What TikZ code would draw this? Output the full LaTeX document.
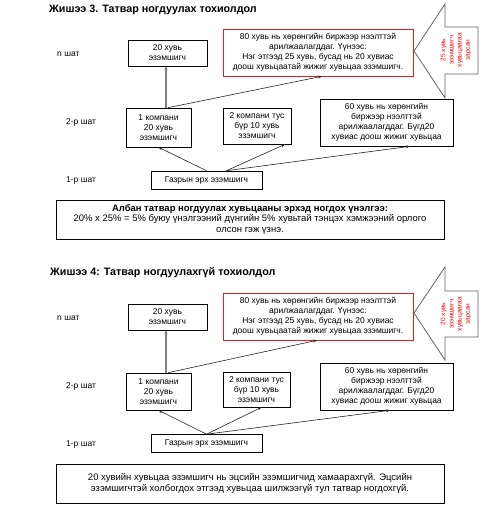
\documentclass[tikz,border=0pt]{standalone}
\usepackage{fontspec}
\setmainfont{Liberation Sans}
\usetikzlibrary{arrows.meta,calc}
\definecolor{redbox}{RGB}{230,30,30}
\definecolor{arrowgray}{RGB}{100,100,100}
\tikzset{
  box/.style={draw=black, line width=0.6bp, align=center, inner sep=0pt, font=\fontsize{8.5}{10}\selectfont},
  redbx/.style={box, draw=redbox},
  lbl/.style={anchor=west, inner sep=0pt, font=\fontsize{8.5}{10}\selectfont},
  ttl/.style={anchor=west, inner sep=0pt, font=\fontsize{10.8}{12}\bfseries\selectfont},
  conn/.style={draw=black!85, line width=0.6bp, -{Stealth[length=4bp,width=3bp]}},
  gconn/.style={draw=gray, line width=1.3bp, -{Stealth[length=4bp,width=3.5bp]}},
  bigarrow/.style={draw=arrowgray, line width=0.8bp, fill=white},
  redtxt/.style={text=red, rotate=90, align=center, inner sep=0pt, font=\fontsize{6.6}{8.2}\selectfont},
  botbox/.style={box, font=\fontsize{9.5}{11}\selectfont},
}
\begin{document}
\begin{tikzpicture}[x=1bp,y=-1bp]
\useasboundingbox[fill=white] (0,0) rectangle (494,522);
% ---------- Example 3 ----------
\node[ttl] (t1) at (49,10) {Жишээ 3. Татвар ногдуулах тохиолдол};
\node[lbl] (an) at (57,54) {n шат};
\node[lbl] (as2) at (66,122) {2-р шат};
\node[lbl] (as1) at (66,180) {1-р шат};
\node[box, minimum width=79bp, minimum height=26bp] (a20) at (167.5,53) {20 хувь\\эзэмшигч};
\node[redbx, minimum width=190bp, minimum height=47bp] (ared) at (318,52.5) {80 хувь нь хөрөнгийн биржээр нээлттэй\\арилжаалагддаг. Үүнээс:\\Нэг этгээд 25 хувь, бусад нь 20 хувиас\\доош хувьцаатай жижиг хувьцаа эзэмшигч.};
\node[box, minimum width=65bp, minimum height=39bp] (ac1) at (158.5,127.5) {1 компани\\20 хувь\\эзэмшигч};
\node[box, minimum width=68bp, minimum height=36bp] (ac2) at (257,126) {2 компани тус\\бүр 10 хувь\\эзэмшигч};
\node[box, minimum width=133bp, minimum height=47bp] (ac60) at (386.5,122.5) {60 хувь нь хөрөнгийн\\биржээр нээлттэй\\арилжаалагддаг. Бүгд20\\хувиас доош жижиг хувьцаа};
\node[box, minimum width=111bp, minimum height=18bp] (aland) at (206.5,180) {Газрын эрх эзэмшигч};
\node[botbox, minimum width=388bp, minimum height=39bp] (abot) at (250,219.5) {\textbf{Албан татвар ногдуулах хувьцааны эрхэд ногдох үнэлгээ:}\\20\% x 25\% = 5\% буюу үнэлгээний дүнгийн 5\% хувьтай тэнцэх хэмжээний орлого\\олсон гэж үзнэ.};
\draw[bigarrow] (414,51) -- (445,4) -- (445,27) -- (478,27) -- (478,74) -- (445,74) -- (445,98) -- cycle;
\node[redtxt] (aarr) at (456,50) {25 хувь\\эзэмшигч\\хувьцаагаа\\зарсан};
\draw[gconn] ($(ac1.north)+(7.5,0)$) -- ($(ac1.north |- a20.south)+(7.5,0)$);
\draw[conn] ($(ac1.north)+(9.5,0)$) -- ($(ared.south)+(4,0)$);
\draw[conn] (aland.north) -- (ac1.south);
\draw[conn] ($(aland.north)+(20,0)$) -- ($(ac2.south)+(28,0)$);
\draw[conn] ($(aland.north)+(20,0)$) -- ($(ac60.south)+(23.5,0)$);
% ---------- Example 4 ----------
\begin{scope}[shift={(0,264)}]
\node[ttl] (t2) at (50,9) {Жишээ 4: Татвар ногдуулахгүй тохиолдол};
\node[lbl] (bn) at (57,54) {n шат};
\node[lbl] (bs2) at (66,122) {2-р шат};
\node[lbl] (bs1) at (66,180) {1-р шат};
\node[box, minimum width=79bp, minimum height=26bp] (b20) at (167.5,53) {20 хувь\\эзэмшигч};
\node[redbx, minimum width=190bp, minimum height=47bp] (bred) at (318,52.5) {80 хувь нь хөрөнгийн биржээр нээлттэй\\арилжаалагддаг. Үүнээс:\\Нэг этгээд 25 хувь, бусад нь 20 хувиас\\доош хувьцаатай жижиг хувьцаа эзэмшигч.};
\node[box, minimum width=65bp, minimum height=37bp] (bc1) at (158.5,127.5) {1 компани\\20 хувь\\эзэмшигч};
\node[box, minimum width=67bp, minimum height=35bp] (bc2) at (256.5,125.5) {2 компани тус\\бүр 10 хувь\\эзэмшигч};
\node[box, minimum width=133bp, minimum height=47bp] (bc60) at (386.5,122.5) {60 хувь нь хөрөнгийн\\биржээр нээлттэй\\арилжаалагддаг. Бүгд20\\хувиас доош жижиг хувьцаа};
\node[box, minimum width=111bp, minimum height=18bp] (bland) at (206.5,179.5) {Газрын эрх эзэмшигч};
\node[botbox, minimum width=388bp, minimum height=39bp] (bbot) at (250,219.5) {20 хувийн хувьцаа эзэмшигч нь эцсийн эзэмшигчид хамаарахгүй. Эцсийн\\эзэмшигчтэй холбогдох этгээд хувьцаа шилжээгүй тул татвар ногдохгүй.};
\draw[bigarrow] (414,49) -- (445,3) -- (445,27) -- (478,27) -- (478,73) -- (445,73) -- (445,96) -- cycle;
\node[redtxt] (barr) at (456,50) {20 хувь\\эзэмшигч\\хувьцаагаа\\зарсан};
\draw[gconn] ($(bc1.north)+(7.5,0)$) -- ($(bc1.north |- b20.south)+(7.5,0)$);
\draw[conn] ($(bc1.north)+(9.5,0)$) -- ($(bred.south)+(-1,0)$);
\draw[conn] (bland.north) -- (bc1.south);
\draw[conn] (bland.north) -- ($(bc2.south)+(5,0)$);
\draw[conn] (bland.north) -- ($(bc60.south)+(3.5,0)$);
\end{scope}
\end{tikzpicture}
\end{document}
